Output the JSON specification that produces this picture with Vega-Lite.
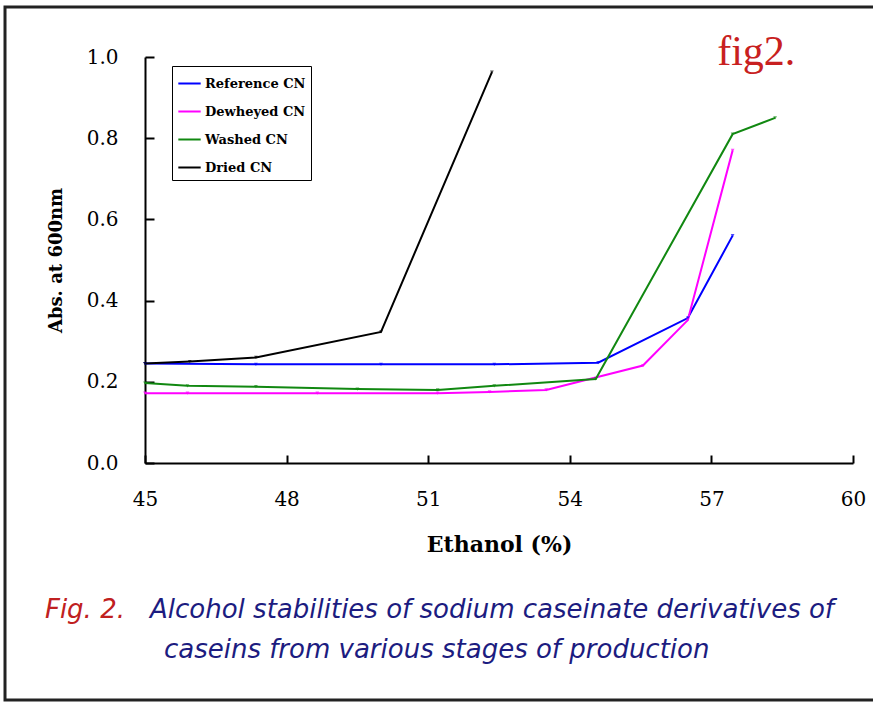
{
  "$schema": "https://vega.github.io/schema/vega-lite/v6.json",
  "width": 708,
  "height": 406,
  "autosize": "none",
  "padding": {"left": 145, "top": 57, "right": 20, "bottom": 241},
  "background": "white",
  "config": {
    "view": {"stroke": null},
    "axis": {
      "grid": false,
      "domainColor": "black",
      "domainWidth": 2,
      "tickColor": "black",
      "tickWidth": 2,
      "labelFont": "DejaVu Serif",
      "labelFontSize": 20,
      "labelColor": "black",
      "labelFlush": false,
      "titleFont": "DejaVu Serif",
      "titleFontWeight": "bold",
      "titleColor": "black"
    }
  },
  "datasets": {
    "series": [
      {"series": "Reference CN", "ethanol": 45, "abs": 0.245},
      {"series": "Reference CN", "ethanol": 47.35, "abs": 0.243},
      {"series": "Reference CN", "ethanol": 50, "abs": 0.243},
      {"series": "Reference CN", "ethanol": 52.4, "abs": 0.243},
      {"series": "Reference CN", "ethanol": 54.6, "abs": 0.247},
      {"series": "Reference CN", "ethanol": 56.5, "abs": 0.357},
      {"series": "Reference CN", "ethanol": 57.45, "abs": 0.56},
      {"series": "Dewheyed CN", "ethanol": 45, "abs": 0.172},
      {"series": "Dewheyed CN", "ethanol": 45.9, "abs": 0.172},
      {"series": "Dewheyed CN", "ethanol": 48.65, "abs": 0.172},
      {"series": "Dewheyed CN", "ethanol": 51.2, "abs": 0.172},
      {"series": "Dewheyed CN", "ethanol": 52.3, "abs": 0.175},
      {"series": "Dewheyed CN", "ethanol": 53.5, "abs": 0.18},
      {"series": "Dewheyed CN", "ethanol": 55.55, "abs": 0.24},
      {"series": "Dewheyed CN", "ethanol": 56.5, "abs": 0.352},
      {"series": "Dewheyed CN", "ethanol": 57.45, "abs": 0.77},
      {"series": "Washed CN", "ethanol": 45, "abs": 0.197},
      {"series": "Washed CN", "ethanol": 45.9, "abs": 0.19},
      {"series": "Washed CN", "ethanol": 47.35, "abs": 0.188},
      {"series": "Washed CN", "ethanol": 49.5, "abs": 0.182},
      {"series": "Washed CN", "ethanol": 51.2, "abs": 0.18},
      {"series": "Washed CN", "ethanol": 52.4, "abs": 0.19},
      {"series": "Washed CN", "ethanol": 54.55, "abs": 0.207},
      {"series": "Washed CN", "ethanol": 57.45, "abs": 0.81},
      {"series": "Washed CN", "ethanol": 58.35, "abs": 0.85},
      {"series": "Dried CN", "ethanol": 45, "abs": 0.245},
      {"series": "Dried CN", "ethanol": 45.95, "abs": 0.25},
      {"series": "Dried CN", "ethanol": 47.35, "abs": 0.26},
      {"series": "Dried CN", "ethanol": 50, "abs": 0.323},
      {"series": "Dried CN", "ethanol": 52.35, "abs": 0.963}
    ]
  },
  "layer": [
    {
      "data": {"values": [{"frame": "border"}]},
      "mark": {"type": "rect", "fill": null, "stroke": "#222222", "strokeWidth": 3, "clip": false},
      "encoding": {
        "x": {"datum": 42.034, "type": "quantitative", "scale": {"domain": [45, 60], "nice": false, "zero": false}},
        "x2": {"datum": 60.57},
        "y": {"datum": 1.123, "type": "quantitative", "scale": {"domain": [0, 1], "nice": false}},
        "y2": {"datum": -0.584}
      }
    },
    {
      "data": {"name": "series"},
      "mark": {"type": "line", "strokeWidth": 2, "clip": false},
      "encoding": {
        "x": {
          "field": "ethanol", "type": "quantitative",
          "scale": {"domain": [45, 60], "nice": false, "zero": false},
          "axis": {"values": [45, 48, 51, 54, 57, 60], "tickSize": -8, "labelPadding": 34, "title": "Ethanol (%)", "titlePadding": 25, "titleFontSize": 22}
        },
        "y": {
          "field": "abs", "type": "quantitative",
          "scale": {"domain": [0, 1], "nice": false},
          "axis": {"values": [0, 0.2, 0.4, 0.6, 0.8, 1.0], "format": ".1f", "tickSize": -9, "labelPadding": 36, "title": "Abs. at 600nm", "titlePadding": 21, "titleFontSize": 18}
        },
        "color": {
          "field": "series", "type": "nominal",
          "scale": {"domain": ["Reference CN", "Dewheyed CN", "Washed CN", "Dried CN"], "range": ["#0000ff", "#ff00ff", "#118811", "#000000"]},
          "legend": {
            "title": null,
            "orient": "none",
            "legendX": 27,
            "legendY": 9,
            "strokeColor": "black",
            "fillColor": "white",
            "padding": 5,
            "symbolType": "stroke",
            "symbolStrokeWidth": 2,
            "symbolSize": 500,
            "labelFont": "DejaVu Serif",
            "labelFontWeight": "bold",
            "labelFontSize": 13,
            "labelColor": "black",
            "rowPadding": 8,
            "labelOffset": 3
          }
        }
      }
    },
    {
      "data": {"name": "series"},
      "mark": {"type": "point", "filled": true, "size": 14, "shape": "triangle-down", "clip": false},
      "encoding": {
        "x": {"field": "ethanol", "type": "quantitative"},
        "y": {"field": "abs", "type": "quantitative"},
        "color": {"field": "series", "type": "nominal", "legend": null}
      }
    },
    {
      "data": {"values": [{"label": "fig2."}]},
      "mark": {"type": "text", "font": "Liberation Serif", "fontSize": 42, "color": "#c82020", "align": "center", "baseline": "alphabetic"},
      "encoding": {
        "x": {"datum": 57.95, "type": "quantitative"},
        "y": {"datum": 0.98, "type": "quantitative"},
        "text": {"field": "label"}
      }
    },
    {
      "data": {"values": [{"label": "Fig. 2."}]},
      "mark": {"type": "text", "font": "DejaVu Sans", "fontStyle": "italic", "fontSize": 26, "color": "#c02020", "align": "left", "baseline": "middle"},
      "encoding": {
        "x": {"datum": 42.88, "type": "quantitative"},
        "y": {"datum": -0.362, "type": "quantitative"},
        "text": {"field": "label"}
      }
    },
    {
      "data": {"values": [{"label": "Alcohol stabilities of sodium caseinate derivatives of"}]},
      "mark": {"type": "text", "font": "DejaVu Sans", "fontStyle": "italic", "fontSize": 26, "color": "#1c1c80", "align": "left", "baseline": "middle"},
      "encoding": {
        "x": {"datum": 45.106, "type": "quantitative"},
        "y": {"datum": -0.362, "type": "quantitative"},
        "text": {"field": "label"}
      }
    },
    {
      "data": {"values": [{"label": "caseins from various stages of production"}]},
      "mark": {"type": "text", "font": "DejaVu Sans", "fontStyle": "italic", "fontSize": 26, "color": "#1c1c80", "align": "center", "baseline": "middle"},
      "encoding": {
        "x": {"datum": 51.18, "type": "quantitative"},
        "y": {"datum": -0.461, "type": "quantitative"},
        "text": {"field": "label"}
      }
    }
  ]
}
